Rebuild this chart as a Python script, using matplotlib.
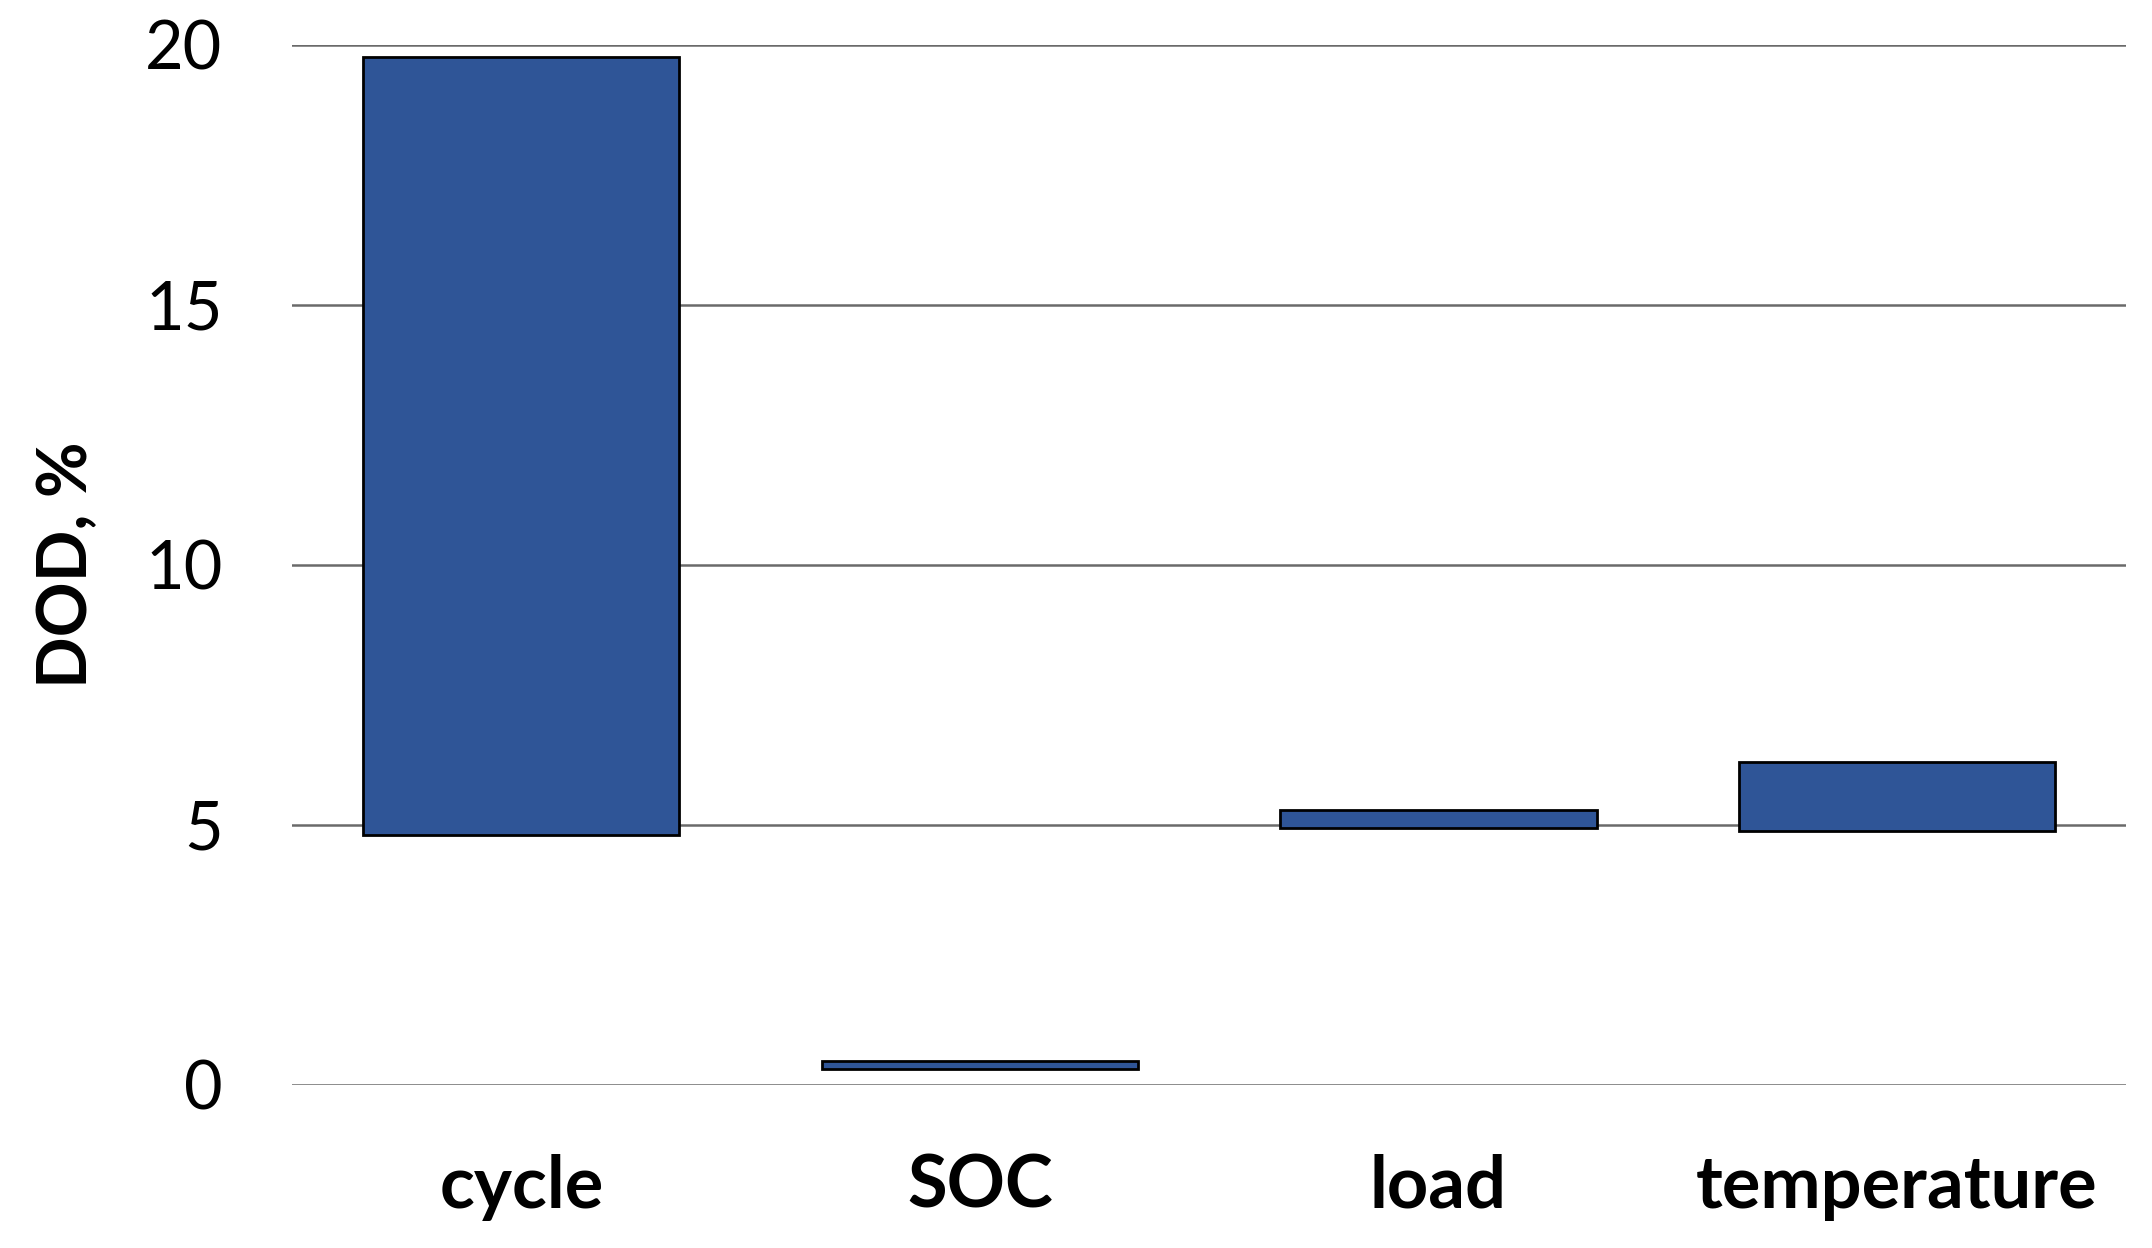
import numpy as np
import matplotlib.pyplot as plt

# floating bars: bottom and top of each bar, DOD in %
categories = ["cycle", "SOC", "load", "temperature"]
bar_bottom = [4.80, 0.29, 4.93, 4.88]
bar_top = [19.76, 0.45, 5.28, 6.20]
y_ticks = [0, 5, 10, 15, 20]

plt.rcParams["font.family"] = ["Lato", "DejaVu Sans"]

fig = plt.figure(figsize=(21.52, 12.48), dpi=100)
ax = fig.add_axes([0.1357, 0.131, 0.988 - 0.1357, 0.964 - 0.131])

x = np.arange(len(categories))
heights = np.array(bar_top) - np.array(bar_bottom)
ax.bar(x, heights, bottom=bar_bottom, width=0.69, color="#2F5597",
       edgecolor="black", linewidth=2, zorder=3, clip_on=False)

ax.set_xlim(-0.5, len(categories) - 0.5)
ax.set_ylim(0, 20)
ax.set_yticks(y_ticks)
ax.set_xticks(x)
ax.set_xticklabels(categories, fontsize=52, fontweight="bold")
ax.tick_params(axis="y", labelsize=48, length=0, pad=50)
ax.tick_params(axis="x", length=0, pad=50)

ax.grid(axis="y", color="#6a6a6a", linewidth=1.8, zorder=0)
for s in ax.spines.values():
    s.set_visible(False)

ax.set_ylabel("DOD, %", fontsize=49, fontweight="bold")
ax.yaxis.set_label_coords(-0.105, 0.5)

fig.savefig("out.png", dpi=100)
